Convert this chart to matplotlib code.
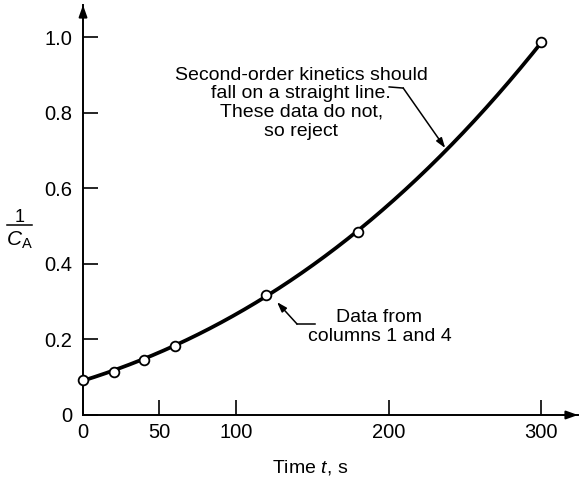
import matplotlib
matplotlib.use("Agg")
import matplotlib.pyplot as plt
from matplotlib.lines import Line2D
import numpy as np

# Data: time (s) and 1/CA
time_s = [0, 20, 40, 60, 120, 180, 300]
inv_ca = [0.094, 0.115, 0.147, 0.184, 0.319, 0.486, 0.987]

x_ticks = [0, 50, 100, 200, 300]
x_tick_labels = ["0", "50", "100", "200", "300"]
y_ticks = [0, 0.2, 0.4, 0.6, 0.8, 1.0]
y_tick_labels = ["0", "0.2", "0.4", "0.6", "0.8", "1.0"]

note_top = "Second-order kinetics should\nfall on a straight line.\nThese data do not,\nso reject"
note_bottom = "Data from\ncolumns 1 and 4"

plt.rcParams["font.family"] = ["Liberation Sans", "DejaVu Sans"]
plt.rcParams["mathtext.fontset"] = "custom"
plt.rcParams["mathtext.rm"] = "Liberation Sans"
plt.rcParams["mathtext.it"] = "Liberation Sans:italic"

W, H = 583, 478
fig = plt.figure(figsize=(W / 100, H / 100), dpi=100)
ax = fig.add_axes([0.1424, 0.1318, 0.8490, 0.8577])

# Smooth curve through the points
coef = np.polyfit(time_s, inv_ca, 3)
t_fine = np.linspace(0, 300, 200)
ax.plot(t_fine, np.polyval(coef, t_fine), color="black", lw=2.7, zorder=2)
ax.plot(time_s, inv_ca, "o", ms=7, mfc="white", mec="black", mew=1.3, zorder=3, clip_on=False)

ax.set_xlim(0, 324)
ax.set_ylim(0, 1.086)

for side in ["top", "right"]:
    ax.spines[side].set_visible(False)
for side in ["left", "bottom"]:
    ax.spines[side].set_linewidth(1.4)

ax.set_xticks(x_ticks)
ax.set_xticklabels(x_tick_labels)
ax.set_yticks(y_ticks)
ax.set_yticklabels(y_tick_labels)
ax.tick_params(axis="both", direction="in", length=11, width=1.2, labelsize=14.5)
ax.tick_params(axis="x", pad=6)
ax.tick_params(axis="y", pad=8)

# Arrow heads on the axes
head = dict(arrowstyle="-|>,head_length=0.7,head_width=0.25", color="black", lw=1.4, shrinkA=0, shrinkB=0)
ax.annotate("", xy=(1.0, 0), xytext=(0.97, 0), xycoords="axes fraction", arrowprops=head, annotation_clip=False)
ax.annotate("", xy=(0, 1.0), xytext=(0, 0.97), xycoords="axes fraction", arrowprops=head, annotation_clip=False)

# Axis labels
ax.text(0.459, -0.127, "Time $t$, s", transform=ax.transAxes, ha="center", va="center", fontsize=14)

# y label drawn as a stacked fraction 1 / C_A
fig.text(20 / W, 1 - 217 / H, "1", ha="center", va="center", fontsize=13)
fig.add_artist(Line2D([7 / W, 32 / W], [1 - 225 / H, 1 - 225 / H], color="black", lw=1.1))
fig.text(19 / W, 1 - 240 / H, r"$C_\mathrm{A}$", ha="center", va="center", fontsize=15)

# Annotations
ax.text(142.8, 0.826, note_top, ha="center", va="center", fontsize=14, linespacing=1.12)
ax.plot([200.4, 209.6], [0.869, 0.866], color="black", lw=1.1)
ax.annotate("", xy=(237.1, 0.707), xytext=(209.6, 0.866),
            arrowprops=dict(arrowstyle="-|>,head_length=0.6,head_width=0.2", color="black", lw=1.1,
                            shrinkA=0, shrinkB=0))

ax.text(194, 0.233, note_bottom, ha="center", va="center", fontsize=14, linespacing=1.12)
ax.plot([140.1, 151.9], [0.241, 0.241], color="black", lw=1.1)
ax.annotate("", xy=(127.0, 0.299), xytext=(140.1, 0.241),
            arrowprops=dict(arrowstyle="-|>,head_length=0.6,head_width=0.2", color="black", lw=1.1,
                            shrinkA=0, shrinkB=0))

fig.savefig("out.png", dpi=100)
